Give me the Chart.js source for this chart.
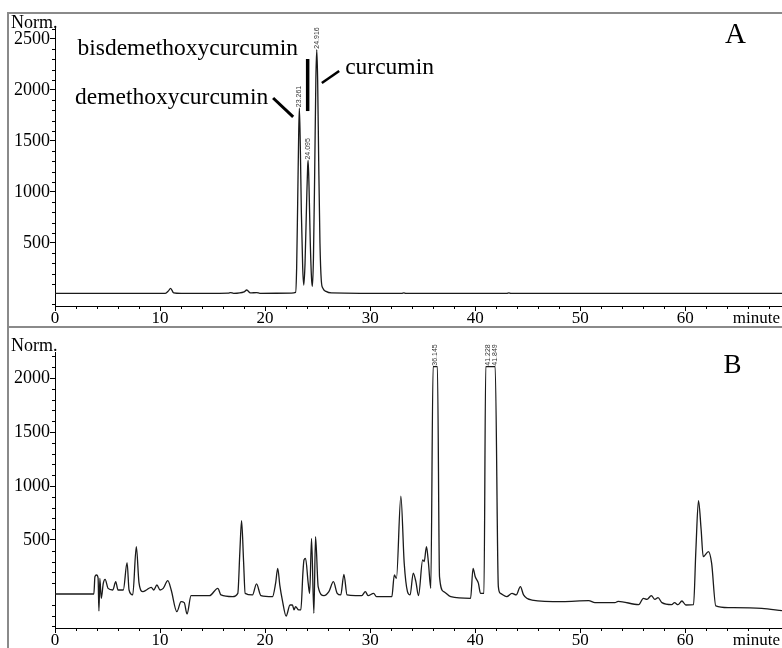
<!DOCTYPE html>
<html>
<head>
<meta charset="utf-8">
<script src="https://cdn.jsdelivr.net/npm/chart.js@4.4.1/dist/chart.umd.min.js"></script>
<style>
  body { margin: 0; background: #fff; }
  #wrap { position: relative; width: 782px; height: 648px; overflow: hidden; background: #fff; }
  canvas { position: absolute; left: 0; }
  #chartA { top: 0; }
  #chartB { top: 327px; }
  .rule { position: absolute; background: #8a8a8a; }
</style>
</head>
<body>
<div id="wrap">
  <canvas id="chartA" width="782" height="327"></canvas>
  <canvas id="chartB" width="782" height="321"></canvas>
  <div class="rule" style="left:7px;top:12px;width:775px;height:1.5px"></div>
  <div class="rule" style="left:7px;top:326px;width:775px;height:2px"></div>
  <div class="rule" style="left:7px;top:12px;width:1.5px;height:636px"></div>
</div>
<script>
// --- data ---

// A: curcumin standards
var timeA = [0, 4, 8, 10.5, 10.8, 11.0, 11.3, 12, 16.5, 16.7, 17, 18.0, 18.25, 18.6, 19.2, 19.5, 22.5, 22.9,
  23.0, 23.1, 23.2, 23.261, 23.35, 23.45, 23.58, 23.68, 23.8, 23.95, 24.05, 24.095, 24.18, 24.3, 24.42, 24.5,
  24.6, 24.72, 24.83, 24.916, 25.0, 25.1, 25.22, 25.35, 25.5, 25.8, 26.3, 33, 33.2, 33.4, 43, 43.2, 43.4, 69.2];
var signalA = [5, 6, 5, 6, 30, 55, 10, 5, 8, 14, 6, 20, 39, 10, 14, 6, 8, 15,
  250, 900, 1600, 1821, 1450, 800, 250, 88, 300, 900, 1250, 1308, 1050, 500, 150, 75,
  350, 1200, 2100, 2394, 2100, 1300, 500, 130, 55, 25, 10, 5, 10, 5, 5, 10, 5, 5];

// B: sample extract
var timeB = [0, 3.7, 3.8, 3.95, 4.1, 4.18, 4.27, 4.4, 4.6, 4.77, 5.05, 5.5, 5.78, 6.0, 6.5, 6.86, 7.05, 7.4,
  7.74, 8.0, 8.37, 8.7, 9.16, 9.4, 9.7, 10.0, 10.3, 10.74, 11.06, 11.6, 12.0, 12.3, 12.57, 12.95, 14.7,
  15.5, 15.8, 16.9, 17.4, 17.6, 17.76, 17.95, 18.1, 18.8, 19.18, 19.6, 20.7, 21.0, 21.2, 21.4, 21.64,
  22.0, 22.37, 22.6, 22.75, 22.9, 23.2, 23.4, 23.6, 23.7, 23.85, 24.1, 24.24, 24.42, 24.64, 24.8, 25.05,
  25.6, 26.07, 26.5, 26.86, 27.2, 27.5, 27.8, 28.6, 29.2, 29.54, 29.8, 30.33, 30.6, 31.75, 32.06, 32.3,
  32.5, 32.92, 33.24, 33.55, 33.8, 34.1, 34.35, 34.6, 35.0, 35.14, 35.36, 35.55, 35.77, 35.99, 36.4,
  36.6, 37.0, 37.67, 39.56, 39.79, 40.0, 40.3, 40.5, 40.83, 41.0, 41.9, 42.2, 42.4, 43.0, 43.5, 43.9,
  44.3, 44.6, 45.4, 48.3, 50.8, 51.4, 53.3, 53.6, 55.56, 56.0, 56.35, 56.76, 57.1, 57.4, 57.77, 58.7,
  58.97, 59.3, 59.67, 60.05, 60.78, 61.0, 61.25, 61.5, 61.7, 62.2, 62.5, 62.9, 64.1, 67.27, 69.2];
var signalB = [0, 0, 160, 176, 150, -157, 145, -40, 100, 135, 52, 37, 114, 37, 37, 290, 37, -9,
  438, 100, 22, 37, 62, 37, 83, 37, 52, 123, 37, -164, -71, -80, -185, -15, -15,
  52, -9, -25, 6, 400, 680, 300, 6, -9, 93, -15, -25, 100, 238, 80, -56,
  -204, -102, -102, -148, -117, -148, -148, 200, 315, 330, 100, 6, 515, -179, 530, 68,
  -15, 22, 114, 6, -9, 182, -9, -15, -15, 22, -15, 6, -25, -25, -25, 176,
  145, 907, 285, 22, -9, 194, 114, -15, 315, 300, 438, 285, 52, 2105, 2105,
  160, 22, -25, -40, 238, 160, 100, 6, 6, 2105, 2105, 68, 6, -25, 6, -9,
  68, -9, -56, -71, -62, -80, -80, -68, -99, -40, -50, -15, -50, -34, -80, -99,
  -80, -99, -65, -102, -99, 400, 864, 600, 346, 392, 285, -111, -127, -133, -154];

var xTicks = [0, 10, 20, 30, 40, 50, 60];
var yTicksA = [500, 1000, 1500, 2000, 2500];
var yTicksB = [500, 1000, 1500, 2000];

// retention time labels
var peakRtA = [23.261, 24.095, 24.916];
var peakHtA = [1821, 1308, 2394];
var peakRtB = [36.145, 41.228, 41.849];
var peakHtB = [2105, 2105, 2105];

// compound names in panel A (data coords)
var namesA = ['bisdemethoxycurcumin', 'demethoxycurcumin', 'curcumin'];
var nameX = [23.14, 20.29, 27.62];
var nameY = [2342, 1862, 2156];
var nameAlign = ['right', 'right', 'left'];
// pointer strokes [x1, y1, x2, y2, width]
var pointersA = [
  [24.05, 2303, 24.05, 1793, 3.5],
  [20.76, 1921, 22.67, 1735, 3],
  [25.4, 2068, 27.05, 2185, 2.5]
];

var serif = '"Liberation Serif", "Times New Roman", serif';

function decorPlugin(cfg) {
  return {
    id: 'decor' + cfg.tag,
    afterDraw: function(chart) {
      var ctx = chart.ctx, x = chart.scales.x, y = chart.scales.y, a = chart.chartArea;
      ctx.save();
      // minor ticks
      ctx.strokeStyle = '#000';
      ctx.lineWidth = 1;
      ctx.beginPath();
      for (var t = 2; t <= x.max; t += 2) {
        if (t % 10 === 0) continue;
        var px = Math.round(x.getPixelForValue(t)) + 0.5;
        ctx.moveTo(px, a.bottom);
        ctx.lineTo(px, a.bottom + 3);
      }
      for (var v = Math.ceil(y.min / 100) * 100; v <= y.max; v += 100) {
        if (v % 500 === 0) continue;
        var py = Math.round(y.getPixelForValue(v)) + 0.5;
        ctx.moveTo(a.left, py);
        ctx.lineTo(a.left - 3, py);
      }
      ctx.stroke();

      // Norm. / minute / panel letter
      ctx.fillStyle = '#000';
      ctx.font = '18px ' + serif;
      ctx.textAlign = 'left';
      ctx.textBaseline = 'alphabetic';
      ctx.fillText('Norm.', 11, a.top + cfg.normDy);
      ctx.font = '17px ' + serif;
      ctx.textAlign = 'right';
      ctx.textBaseline = 'middle';
      ctx.fillText('minute', 780, a.bottom + 13);
      ctx.font = cfg.letterSize + 'px ' + serif;
      ctx.textAlign = 'center';
      ctx.textBaseline = 'alphabetic';
      ctx.fillText(cfg.letter, x.getPixelForValue(cfg.letterX), y.getPixelForValue(cfg.letterY));

      // retention time labels, rotated
      ctx.fillStyle = '#333';
      ctx.font = '7px "Liberation Sans", Arial, sans-serif';
      ctx.textAlign = 'left';
      ctx.textBaseline = 'middle';
      for (var i = 0; i < cfg.rt.length; i++) {
        ctx.save();
        ctx.translate(x.getPixelForValue(cfg.rt[i]), y.getPixelForValue(cfg.ht[i]) - 1);
        ctx.rotate(-Math.PI / 2);
        ctx.fillText(cfg.rt[i].toFixed(3), 0, 0);
        ctx.restore();
      }

      // compound names and pointers
      if (cfg.names) {
        ctx.fillStyle = '#000';
        ctx.font = '23.5px ' + serif;
        ctx.textBaseline = 'alphabetic';
        for (var j = 0; j < namesA.length; j++) {
          ctx.textAlign = nameAlign[j];
          ctx.fillText(namesA[j], x.getPixelForValue(nameX[j]), y.getPixelForValue(nameY[j]));
        }
        ctx.strokeStyle = '#000';
        for (var k = 0; k < pointersA.length; k++) {
          var p = pointersA[k];
          ctx.lineWidth = p[4];
          ctx.beginPath();
          ctx.moveTo(x.getPixelForValue(p[0]), y.getPixelForValue(p[1]));
          ctx.lineTo(x.getPixelForValue(p[2]), y.getPixelForValue(p[3]));
          ctx.stroke();
        }
      }
      ctx.restore();
    }
  };
}

function makeChart(id, times, values, yMin, yMax, yTicks, padTop, axisH, cfg) {
  var pts = times.map(function(t, i) { return { x: t, y: values[i] }; });
  return new Chart(document.getElementById(id), {
    type: 'line',
    data: {
      datasets: [{
        data: pts,
        borderColor: '#1a1a1a',
        borderWidth: 1.3,
        pointRadius: 0,
        cubicInterpolationMode: 'monotone',
        fill: false
      }]
    },
    options: {
      responsive: false,
      animation: false,
      events: [],
      layout: { padding: { top: padTop, left: 0, right: 0, bottom: 0 } },
      plugins: { legend: { display: false }, tooltip: { enabled: false } },
      scales: {
        x: {
          type: 'linear', min: 0, max: 69.2,
          afterBuildTicks: function(s) { s.ticks = xTicks.map(function(v) { return { value: v }; }); },
          afterFit: function(s) { s.height = axisH; },
          ticks: { font: { family: serif, size: 17 }, color: '#000', padding: -3, maxRotation: 0, autoSkip: false,
                   callback: function(v) { return String(v); } },
          grid: { drawOnChartArea: false, drawTicks: true, tickLength: 5, color: '#000' },
          border: { color: '#000', width: 1 }
        },
        y: {
          min: yMin, max: yMax,
          afterBuildTicks: function(s) { s.ticks = yTicks.map(function(v) { return { value: v }; }); },
          afterFit: function(s) { s.width = 55; },
          ticks: { font: { family: serif, size: 18 }, color: '#000', padding: 0,
                   callback: function(v) { return String(v); } },
          grid: { drawOnChartArea: false, drawTicks: true, tickLength: 5, color: '#000' },
          border: { color: '#000', width: 1 }
        }
      }
    },
    plugins: [decorPlugin(cfg)]
  });
}

makeChart('chartA', timeA, signalA, -118, 2607, yTicksA, 28, 21,
  { tag: 'A', letter: 'A', letterSize: 29, letterX: 64.76, letterY: 2460, normDy: 0,
    rt: peakRtA, ht: peakHtA, names: true });
makeChart('chartB', timeB, signalB, -315, 2241, yTicksB, 25, 20,
  { tag: 'B', letter: 'B', letterSize: 27, letterX: 64.5, letterY: 2046, normDy: -1,
    rt: peakRtB, ht: peakHtB, names: false });
</script>
</body>
</html>
